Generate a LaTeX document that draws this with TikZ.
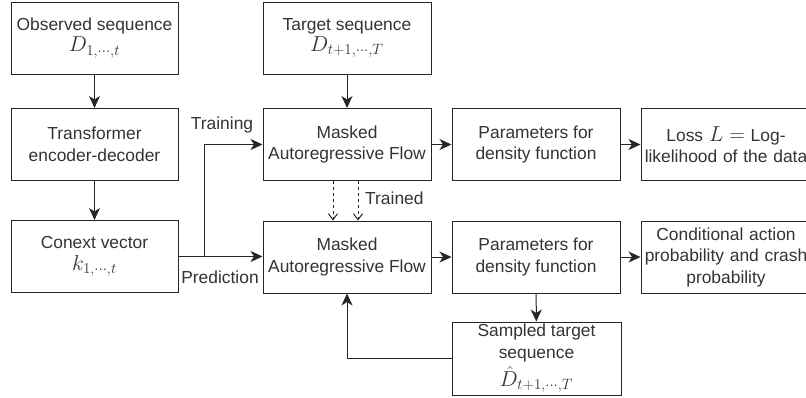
\documentclass[tikz,border=0pt]{standalone}
\usepackage{fontspec}
\setmainfont{Liberation Sans}
\usetikzlibrary{arrows.meta,calc}
\newcommand\mth[1]{\scalebox{1.25}{$#1$}}
\tikzset{
  box/.style={draw=black!85, line width=1pt, minimum width=167pt, minimum height=72pt, inner sep=0pt, align=center, text=black!80, font=\fontsize{17.4}{21.5}\selectfont},
  conn/.style={draw=black!85, line width=1pt, -{Stealth[length=12pt,width=11pt,inset=3.5pt]}},
  dconn/.style={draw=black!85, line width=1pt, dashed, dash pattern=on 3pt off 3pt, -{Straight Barb[length=6pt,width=9pt]}},
  lbl/.style={text=black!80, font=\fontsize{17.4}{21.5}\selectfont, inner sep=0pt}
}
\begin{document}
\begin{tikzpicture}[x=1pt,y=-1pt]
\useasboundingbox (0,0) rectangle (806,397);
\node[box] (obs) at (94.5,38) {Observed sequence\\ \mth{D_{1,\cdots,t}}};
\node[box] (trans) at (94.5,144.5) {Transformer\\encoder-decoder};
\node[box] (ctx) at (94.5,256.5) {Conext vector\\ \mth{k_{1,\cdots,t}}};
\node[box, minimum width=168pt] (tgt) at (347,38) {Target sequence\\ \mth{D_{t+1,\cdots,T}}};
\node[box, minimum width=168pt] (maf1) at (347,144.5) {Masked\\Autoregressive Flow};
\node[box, minimum width=168pt] (maf2) at (347,257) {Masked\\Autoregressive Flow};
\node[box, minimum width=168pt] (par1) at (536,144.5) {Parameters for\\density function};
\node[box, minimum width=168pt] (par2) at (536,257) {Parameters for\\density function};
\node[box, minimum width=168pt, text width=170pt] (loss) at (726,144.5) {Loss \mth{L=} Log-\\likelihood of the data};
\node[box, minimum width=168pt, text width=170pt] (cond) at (726,257) {Conditional action\\probability and crash\\probability};
\node[box, minimum width=169pt, minimum height=73pt] (samp) at (536.5,358.5) {Sampled target\\sequence\\[3pt] \mth{\hat{D}_{t+1,\cdots,T}}};

\coordinate (br) at (204,256.5);
\draw[conn] (obs) -- (trans);
\draw[conn] (trans) -- (ctx);
\draw[conn] (ctx.east) -- (maf2.west |- ctx.east);
\draw[conn] (br) |- (maf1.west);
\draw[conn] (tgt) -- (maf1);
\draw[conn] (maf1) -- (par1);
\draw[conn] (par1) -- (loss);
\draw[conn] (maf2) -- (par2);
\draw[conn] (par2) -- (cond);
\draw[conn] (par2) -- (samp);
\draw[conn] (samp.west) -| (maf2.south);
\draw[dconn] ([xshift=-14pt]maf1.south) -- ([xshift=-14pt]maf2.north);
\draw[dconn] ([xshift=11pt]maf1.south) -- ([xshift=11pt]maf2.north);

\node[lbl] (training) at (222,125) {Training};
\node[lbl] (prediction) at (220,277) {Prediction};
\node[lbl, anchor=west] (trained) at (365,198) {Trained};
\end{tikzpicture}
\end{document}
